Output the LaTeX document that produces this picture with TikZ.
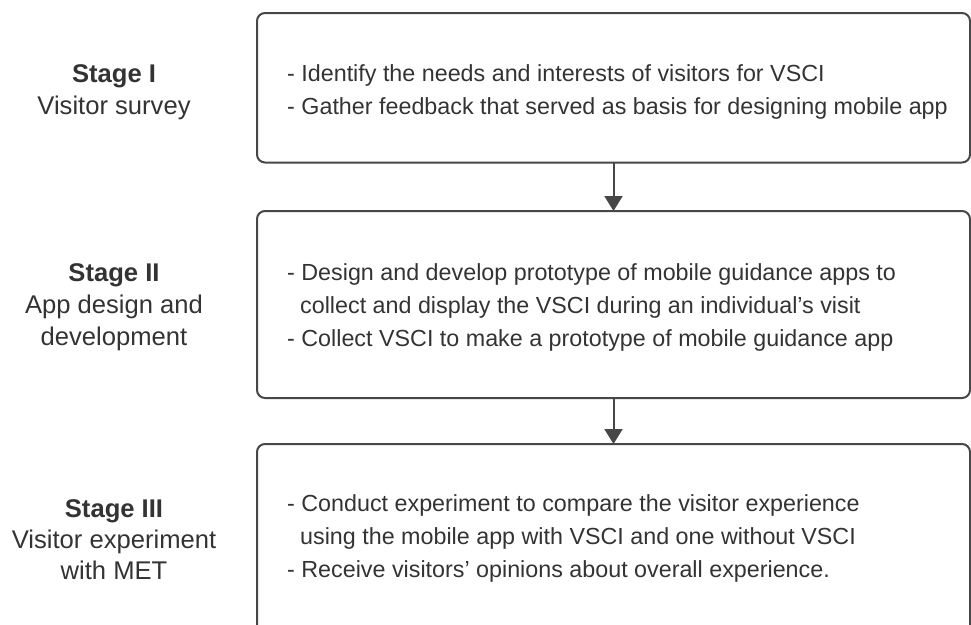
\documentclass[tikz,border=0pt]{standalone}
\usepackage{fontspec}
\setmainfont{Liberation Sans}
\usetikzlibrary{arrows.meta}
\definecolor{inkline}{HTML}{474747}
\definecolor{inktext}{HTML}{333333}
\tikzset{
  stagebox/.style={draw=inkline, line width=2pt, rounded corners=8pt, fill=none,
    minimum width=713pt, inner sep=0pt, outer sep=0pt},
  bullet/.style={anchor=base west, inner sep=0pt, text=inktext, font=\fontsize{23.3}{28}\selectfont},
  label/.style={anchor=base, inner sep=0pt, text=inktext, font=\fontsize{25.6}{30}\selectfont},
  flow/.style={draw=inkline, line width=2pt, -{Triangle[length=15pt,width=18pt]}}
}
\begin{document}
\begin{tikzpicture}[x=1pt,y=-1pt]
\useasboundingbox (0,0) rectangle (971,624);
\clip (0,0) rectangle (971,624);

% the three stage boxes
\node[stagebox, minimum height=149.5pt] (b1) at (613.5,87.75) {};
\node[stagebox, minimum height=187pt] (b2) at (613.5,304.5) {};
\node[stagebox, minimum height=216pt] (b3) at (613.5,552) {};

\draw[flow] (b1.south) -- (b2.north);
\draw[flow] (b2.south) -- (b3.north);

% stage labels
\node[label, font=\fontsize{25.6}{30}\selectfont\bfseries] (s1) at (114,82) {Stage I};
\node[label] (s1b) at (114,114) {Visitor survey};

\node[label, font=\fontsize{25.6}{30}\selectfont\bfseries] (s2) at (114,281) {Stage II};
\node[label] (s2b) at (114,313) {App design and};
\node[label] (s2c) at (114,345) {development};

\node[label, font=\fontsize{25.6}{30}\selectfont\bfseries] (s3) at (114,517) {Stage III};
\node[label] (s3b) at (114,548) {Visitor experiment};
\node[label] (s3c) at (114,579) {with MET};

% box contents
\node[bullet] (t11) at (287,81) {- Identify the needs and interests of visitors for VSCI};
\node[bullet] (t12) at (287,114) {- Gather feedback that served as basis for designing mobile app};

\node[bullet] (t21) at (287,280) {- Design and develop prototype of mobile guidance apps to};
\node[bullet] (t22) at (300,313) {collect and display the VSCI during an individual’s visit};
\node[bullet] (t23) at (287,346) {- Collect VSCI to make a prototype of mobile guidance app};

\node[bullet] (t31) at (287,511) {- Conduct experiment to compare the visitor experience};
\node[bullet] (t32) at (300,544) {using the mobile app with VSCI and one without VSCI};
\node[bullet] (t33) at (287,577) {- Receive visitors’ opinions about overall experience.};
\end{tikzpicture}
\end{document}
